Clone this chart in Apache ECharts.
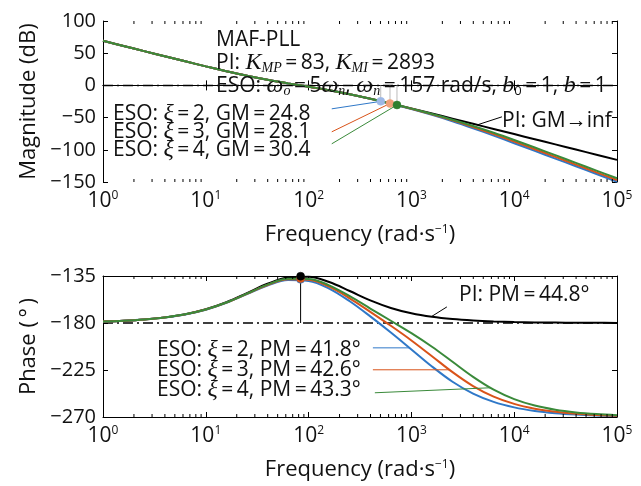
<!DOCTYPE html>
<html>
<head>
<meta charset="utf-8">
<script src="https://cdn.jsdelivr.net/npm/echarts@6/dist/echarts.min.js"></script>
<style>
html, body { margin: 0; padding: 0; background: #fff; }
#chart { width: 641px; height: 486px; }
</style>
</head>
<body>
<div id="chart"></div>
<script>
// frequency grid, rad/s (log spaced, 0.2 decade)
var freq = [1, 1.585, 2.512, 3.981, 6.31, 10, 15.85, 25.12, 39.81, 63.1, 100, 158.5, 251.2, 398.1, 631, 1000,
    1585, 2512, 3981, 6310, 10000, 15849, 25119, 39811, 63096, 100000];

// magnitude (dB)
var magPI = [69.23, 61.24, 53.25, 45.29, 37.37, 29.56, 22.02, 14.98, 8.69, 3.13, -2.09, -7.53, -13.64, -20.54, -28.0, -35.76,
    -43.66, -51.62, -59.61, -67.6, -75.6, -83.6, -91.6, -99.6, -107.6, -115.6];
var magEso2 = [69.23, 61.24, 53.25, 45.29, 37.37, 29.56, 22.02, 14.98, 8.69, 3.12, -2.10, -7.56, -13.71, -20.71, -28.41, -36.73,
    -45.78, -55.73, -66.57, -78.0, -89.75, -101.65, -113.61, -125.59, -137.58, -149.58];
var magEso3 = [69.23, 61.24, 53.25, 45.29, 37.37, 29.56, 22.02, 14.98, 8.69, 3.13, -2.10, -7.55, -13.68, -20.63, -28.23, -36.32,
    -44.95, -54.33, -64.63, -75.70, -87.28, -99.10, -111.02, -122.99, -134.98, -146.97];
var magEso4 = [69.23, 61.24, 53.25, 45.29, 37.37, 29.56, 22.02, 14.98, 8.69, 3.13, -2.09, -7.54, -13.66, -20.59, -28.13, -36.07,
    -44.39, -53.27, -62.95, -73.52, -84.79, -96.47, -108.33, -120.27, -132.25, -144.24];

// phase (deg)
var phPI = [-178.65, -177.85, -176.60, -174.62, -171.55, -166.85, -160.08, -151.38, -142.46, -136.43, -135.79, -140.80, -149.37,
    -158.32, -165.57, -170.69, -174.07, -176.25, -177.62, -178.50, -179.05, -179.41, -179.62, -179.76, -179.85, -179.91];
var phEso2 = [-178.69, -177.91, -176.70, -174.78, -171.80, -167.25, -160.71, -152.37, -144.03, -138.92, -139.74, -147.04, -159.20,
    -173.67, -189.09, -205.28, -221.61, -236.25, -247.62, -255.56, -260.80, -264.18, -266.32, -267.67, -268.53, -269.08];
var phEso3 = [-178.68, -177.89, -176.67, -174.73, -171.73, -167.13, -160.52, -152.08, -143.57, -138.19, -138.58, -145.22, -156.36,
    -169.31, -182.68, -196.69, -211.78, -227.04, -240.38, -250.50, -257.47, -262.04, -264.95, -266.81, -267.99, -268.74];
var phEso4 = [-178.67, -177.88, -176.65, -174.70, -171.68, -167.05, -160.39, -151.88, -143.25, -137.68, -137.77, -143.93, -154.32,
    -166.14, -177.85, -189.72, -202.73, -217.15, -231.55, -243.82, -252.88, -259.04, -263.03, -265.59, -267.22, -268.25];

// gain margin points (phase crossover) and phase margin points (gain crossover)
var gmFreq = [503, 619, 724];
var gmVal = [-24.8, -28.1, -30.4];
var pmFreq = 83.6;
var pmEso = [-138.2, -137.4, -136.7];
var pmPI = -135.2;

// label pointers [from, to] in data units
var gmPtrFrom = [[168, -36.4], [168, -72.1], [168, -90.7]];
var piGmPtr = [[4436, -61], [7600, -48.8]];
var pmPtr = [
    [[422, -203.8], [959, -203.8]],
    [[422, -224.8], [2349, -224.8]],
    [[441, -246.8], [5890, -242]]
];
var piPmPtr = [[1582, -173.6], [2213, -164.6]];

var colors = ['#2f78c8', '#d95319', '#3a8a3a'];
var markFill = ['#9db8e6', '#f0a07a', '#2f7f2f'];

var FONT = 'Open Sans';
var MATH = 'Liberation Serif';
var INK = '#111';
var EQ = '\u2009=\u2009';
var EQW = '\u2006=\u2006';

// minor ticks 2..9 x 10^k
var minorTicks = [];
for (var k = 0; k < 5; k++) {
    for (var m = 2; m < 10; m++) minorTicks.push(m * Math.pow(10, k));
}

function pairs(xs, ys) {
    return xs.map(function (x, i) { return [x, ys[i]]; });
}

function expLabel(v) {
    var e = Math.round(Math.log(v) / Math.LN10);
    return '{b|10}{e|' + e + '}';
}

function minus(v) {
    return String(v).replace('-', '\u2212');
}

var freqName = '{t|Frequency (rad\u00b7s}{e|\u22121}{t|)}';
var nameRich = {
    t: {fontFamily: FONT, fontSize: 22, color: INK},
    e: {fontFamily: FONT, fontSize: 12, color: INK, verticalAlign: 'top', lineHeight: 12}
};

function xAxis(grid, pos) {
    var bottom = pos === 'bottom';
    return {
        type: 'log', logBase: 10, min: 1, max: 100000, gridIndex: grid, position: pos,
        axisLine: {lineStyle: {color: '#000', width: 1}},
        axisTick: {inside: true, length: 5, lineStyle: {color: '#000'}},
        splitLine: {show: false},
        axisLabel: bottom ? {
            show: true, margin: 8, formatter: expLabel,
            rich: {
                b: {fontFamily: FONT, fontSize: 21, color: INK, lineHeight: 22},
                e: {fontFamily: FONT, fontSize: 12, color: INK, verticalAlign: 'top', lineHeight: 12}
            }
        } : {show: false},
        name: bottom ? freqName : '', nameLocation: 'middle', nameGap: 42,
        nameTextStyle: {rich: nameRich}
    };
}

function yAxis(grid, pos, min, max, step, name) {
    var left = pos === 'left';
    return {
        type: 'value', gridIndex: grid, position: pos, min: min, max: max, interval: step,
        axisLine: {show: true, lineStyle: {color: '#000', width: 1}},
        axisTick: {show: true, inside: true, length: 5, lineStyle: {color: '#000'}},
        splitLine: {show: false},
        axisLabel: left ? {show: true, margin: 7, formatter: minus, fontFamily: FONT, fontSize: 20, color: INK} : {show: false},
        name: left ? name : '', nameLocation: 'middle', nameGap: 63, nameRotate: 90,
        nameTextStyle: {fontFamily: FONT, fontSize: 22, color: INK}
    };
}

function curve(xi, yi, data, color, width, z) {
    return {
        type: 'line', xAxisIndex: xi, yAxisIndex: yi, data: data, showSymbol: false, symbol: 'none',
        smooth: 0.35, lineStyle: {color: color, width: width}, z: z || 3, silent: true
    };
}

function seg(xi, yi, data, color, width, type, z) {
    return {
        type: 'line', xAxisIndex: xi, yAxisIndex: yi, data: data, symbol: 'none',
        lineStyle: {color: color, width: width, type: type || 'solid'}, z: z || 2, silent: true
    };
}

function dot(xi, yi, pt, fill, z) {
    return {
        type: 'scatter', xAxisIndex: xi, yAxisIndex: yi, data: [pt], symbol: 'circle', symbolSize: 8,
        itemStyle: {color: fill, borderColor: fill, borderWidth: 0.5, opacity: 1}, z: z || 5, silent: true
    };
}

function minorTickSeries(xi, yi, yRef) {
    return {
        type: 'custom', xAxisIndex: xi, yAxisIndex: yi, silent: true, z: 6,
        data: minorTicks.map(function (v) { return [v, yRef]; }),
        renderItem: function (params, api) {
            var p = api.coord([api.value(0), api.value(1)]);
            var cs = params.coordSys;
            var top = cs.y, bot = cs.y + cs.height;
            return {
                type: 'group', children: [
                    {type: 'line', shape: {x1: p[0], y1: bot, x2: p[0], y2: bot - 3}, style: {stroke: '#000', lineWidth: 1}},
                    {type: 'line', shape: {x1: p[0], y1: top, x2: p[0], y2: top + 3}, style: {stroke: '#000', lineWidth: 1}}
                ]
            };
        }
    };
}

var dashDot = [10, 4, 2, 4];
var series = [];

// magnitude plot
series.push(seg(0, 0, [[1, 0], [100000, 0]], '#000', 1.5, dashDot, 1));
gmFreq.forEach(function (f, i) {
    series.push(seg(0, 0, [[f, 0], [f, gmVal[i]]], '#aaa', 0.8, 'solid', 1));
});
series.push(curve(0, 0, pairs(freq, magPI), '#000', 2));
series.push(curve(0, 0, pairs(freq, magEso2), colors[0], 2));
series.push(curve(0, 0, pairs(freq, magEso3), colors[1], 2));
series.push(curve(0, 0, pairs(freq, magEso4), colors[2], 2));
gmFreq.forEach(function (f, i) {
    series.push(seg(0, 0, [gmPtrFrom[i], [f, gmVal[i]]], colors[i], 1, 'solid', 4));
});
series.push(seg(0, 0, piGmPtr, '#000', 1, 'solid', 4));
gmFreq.forEach(function (f, i) {
    series.push(dot(0, 0, [f, gmVal[i]], markFill[i]));
});
series.push(minorTickSeries(0, 0, 0));

// phase plot
series.push(seg(2, 2, [[1, -180], [100000, -180]], '#000', 1.5, dashDot, 1));
series.push(seg(2, 2, [[pmFreq, -180], [pmFreq, pmPI]], '#000', 1, 'solid', 1));
series.push(curve(2, 2, pairs(freq, phPI), '#000', 2));
series.push(curve(2, 2, pairs(freq, phEso2), colors[0], 2));
series.push(curve(2, 2, pairs(freq, phEso3), colors[1], 2));
series.push(curve(2, 2, pairs(freq, phEso4), colors[2], 2));
pmPtr.forEach(function (p, i) {
    series.push(seg(2, 2, p, colors[i], 1, 'solid', 4));
});
series.push(seg(2, 2, piPmPtr, '#000', 1, 'solid', 4));
series.push(dot(2, 2, [pmFreq, pmEso[0]], colors[0]));
series.push(dot(2, 2, [pmFreq, pmEso[2]], colors[2]));
series.push(dot(2, 2, [pmFreq, pmEso[1]], colors[1]));
series.push(dot(2, 2, [pmFreq, pmPI], '#000', 6));
series.push(minorTickSeries(2, 2, -180));

var rich = {
    t: {fontFamily: FONT, fontSize: 21, color: INK, lineHeight: 24},
    m: {fontFamily: MATH, fontStyle: 'italic', fontSize: 24, color: INK, lineHeight: 24},
    ms: {fontFamily: MATH, fontStyle: 'italic', fontSize: 14, color: INK, lineHeight: 13, verticalAlign: 'bottom'},
    s: {fontFamily: FONT, fontSize: 13, color: INK, lineHeight: 13, verticalAlign: 'bottom'}
};

function label(x, y, text) {
    return {
        type: 'text', x: x, y: y, z: 10, silent: true,
        style: {text: text, rich: rich, verticalAlign: 'middle', align: 'left', fill: INK}
    };
}

var graphics = [
    label(216, 40, '{t|MAF-PLL}'),
    label(216, 63, '{t|PI: }{m|K}{ms|MP}{t|' + EQ + '83, }{m|K}{ms|MI}{t|' + EQ + '2893}'),
    label(216, 86, '{t|ESO: }{m|\u03c9}{ms|o}{t|' + EQ + '5}{m|\u03c9}{ms|n}{t|, }{m|\u03c9}{ms|n}{t|' + EQ +
        '157 rad/s, }{m|b}{s|0}{t|' + EQ + '1, }{m|b}{t|' + EQ + '1}'),
    label(113, 114, '{t|ESO: }{m|\u03be}{t|' + EQW + '2, GM' + EQW + '24.8}'),
    label(113, 132, '{t|ESO: }{m|\u03be}{t|' + EQW + '3, GM' + EQW + '28.1}'),
    label(113, 150, '{t|ESO: }{m|\u03be}{t|' + EQW + '4, GM' + EQW + '30.4}'),
    label(502, 121, '{t|PI: GM\u2192inf}'),
    label(459, 295, '{t|PI: PM' + EQ + '44.8\u00b0}'),
    label(157, 350, '{t|ESO: }{m|\u03be}{t|' + EQ + '2, PM' + EQ + '41.8\u00b0}'),
    label(157, 370, '{t|ESO: }{m|\u03be}{t|' + EQ + '3, PM' + EQ + '42.6\u00b0}'),
    label(157, 390, '{t|ESO: }{m|\u03be}{t|' + EQ + '4, PM' + EQ + '43.3\u00b0}')
];

var chart = echarts.init(document.getElementById('chart'), null, {renderer: 'canvas'});
chart.setOption({
    backgroundColor: '#fff',
    animation: false,
    grid: [
        {left: 103, top: 21, width: 514, height: 161},
        {left: 103, top: 276, width: 514, height: 141}
    ],
    xAxis: [xAxis(0, 'bottom'), xAxis(0, 'top'), xAxis(1, 'bottom'), xAxis(1, 'top')],
    yAxis: [
        yAxis(0, 'left', -150, 100, 50, 'Magnitude (dB)'),
        yAxis(0, 'right', -150, 100, 50, ''),
        yAxis(1, 'left', -270, -135, 45, 'Phase (\u2009\u00b0\u2009)'),
        yAxis(1, 'right', -270, -135, 45, '')
    ],
    series: series,
    graphic: graphics
});
</script>
</body>
</html>
